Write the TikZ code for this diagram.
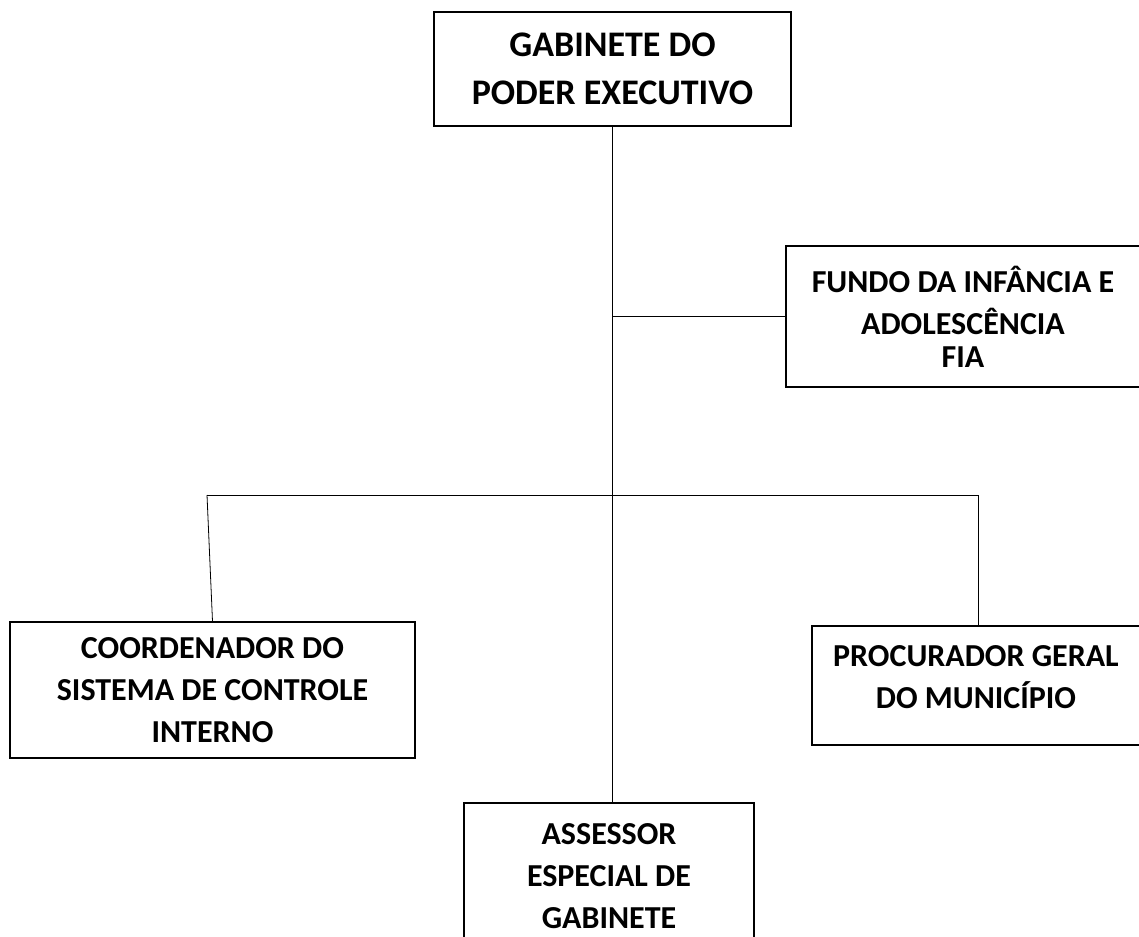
\documentclass[tikz,border=0pt]{standalone}
\usepackage{fontspec}
\setmainfont{Carlito}
\usetikzlibrary{calc}

\tikzset{
	setor/.style={draw, line width=1.4pt, rectangle, align=center, inner sep=0pt, font=\bfseries\fontsize{32}{42}\selectfont},
	rotulo/.style={align=center, inner sep=0pt, font=\bfseries\fontsize{32}{42}\selectfont},
	ligacao/.style={line width=0.8pt},
}

\begin{document}
\begin{tikzpicture}[x=1pt, y=-1pt]
			%%%%% START %%%%%
			
			\clip (0, 0) rectangle (1139, 936);
			
			\node[setor, minimum width=357, minimum height=114, font=\bfseries\fontsize{36}{48}\selectfont] (gab) at (612.5, 69) {GABINETE DO\\PODER EXECUTIVO};
			
			\node[setor, minimum width=354, minimum height=141] (fia) at (963, 316.5) {FUNDO DA INFÂNCIA E\\ADOLESCÊNCIA\\[-9pt]FIA};
			
			\node[setor, minimum width=405, minimum height=136] (sci) at (212.5, 690) {COORDENADOR DO\\SISTEMA DE CONTROLE\\INTERNO};
			
			\node[setor, minimum width=328, minimum height=119, label={[rotulo, yshift=8pt]center:PROCURADOR GERAL\\DO MUNICÍPIO}] (pgm) at (976, 685.5) {};
			
			\node[setor, minimum width=290, minimum height=146] (asr) at (609, 876) {ASSESSOR\\ESPECIAL DE\\GABINETE};
			
			\coordinate (fiaj) at (gab.south |- fia.west);
			\coordinate (barraE) at (207, 495);
			\coordinate (barraD) at (978, 495);
			
			\draw[ligacao] (gab.south) -- (gab.south |- asr.north);
			\draw[ligacao] (fiaj) -- (fia.west);
			\draw[ligacao] (barraE) -- (barraD);
			\draw[ligacao] (barraE) -- (sci.north);
			\draw[ligacao] (barraD) -- (barraD |- pgm.north);
			
			%%%%% END %%%%%
\end{tikzpicture}
\end{document}
